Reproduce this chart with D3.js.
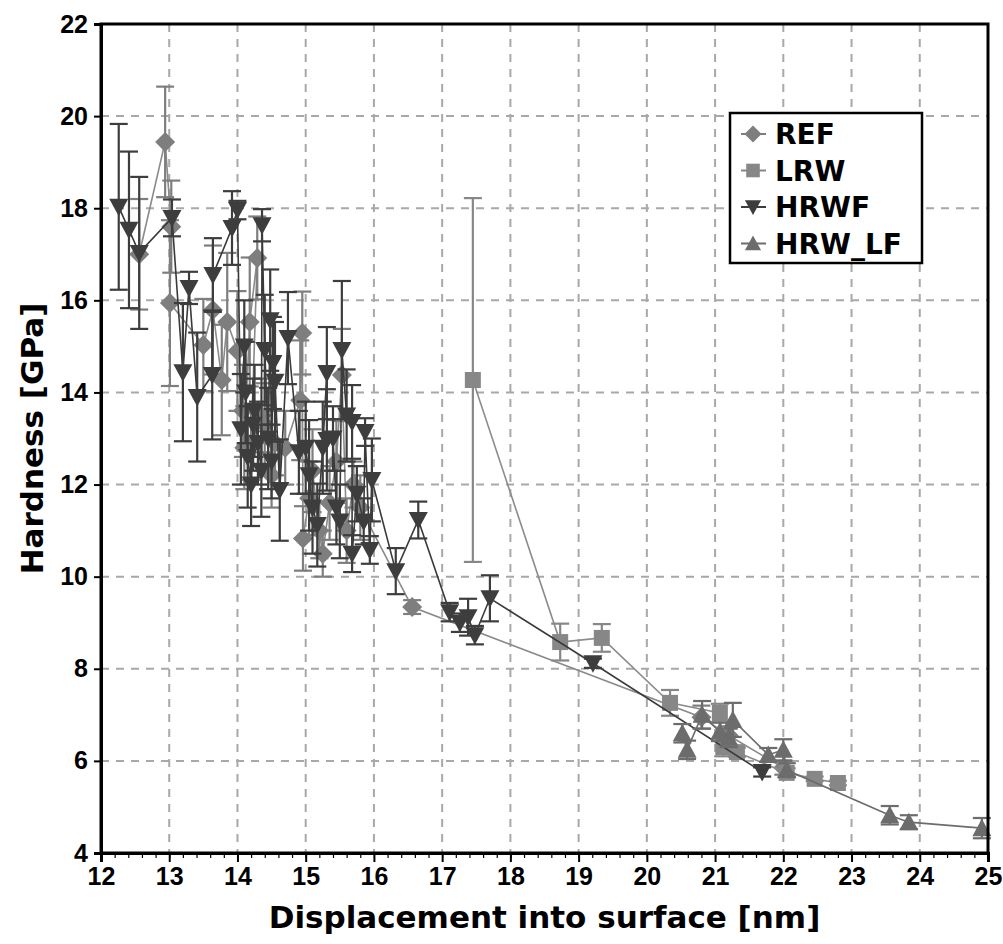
<!DOCTYPE html>
<html>
<head>
<meta charset="utf-8">
<script src="https://cdn.jsdelivr.net/npm/d3@7"></script>
<style>
  body { margin: 0; background: #fff; }
  svg { display: block; }
</style>
</head>
<body>
<div id="chart"></div>
<script>
// series data: [x (nm), hardness (GPa), error (GPa)]
const refData = [
  [12.56, 17.0, 1.2], [12.94, 19.44, 1.2], [13.03, 17.6, 1.0], [13.01, 15.94, 1.8],
  [13.5, 15.03, 1.0], [13.64, 15.79, 1.4], [13.77, 14.27, 1.2], [13.85, 15.53, 1.5],
  [14.0, 14.9, 1.3], [14.08, 13.6, 1.0], [14.1, 12.8, 0.9], [14.18, 15.53, 1.4],
  [14.29, 16.92, 0.9], [14.2, 12.9, 0.8], [14.35, 13.5, 0.8], [14.4, 13.3, 0.9],
  [14.5, 12.2, 0.7], [14.55, 12.9, 0.7], [14.7, 12.8, 0.8], [14.92, 13.83, 1.3],
  [14.95, 15.29, 0.9], [14.96, 10.83, 0.7], [15.05, 11.7, 0.8], [15.1, 12.3, 0.9],
  [15.2, 11.0, 0.6], [15.25, 10.5, 0.5], [15.35, 11.6, 0.8], [15.45, 12.5, 0.9],
  [15.53, 14.38, 1.0], [15.6, 11.0, 0.7], [15.7, 12.0, 0.5], [15.8, 11.5, 0.7],
  [16.56, 9.34, 0.15], [20.8, 6.95, 0.25], [21.2, 6.55, 0.2], [22.0, 5.85, 0.15]
];
const lrwData = [
  [17.45, 14.27, 3.95], [18.73, 8.58, 0.4], [19.34, 8.67, 0.3], [20.34, 7.26, 0.28],
  [21.07, 7.04, 0.2], [21.12, 6.3, 0.2], [21.32, 6.19, 0.1], [22.05, 5.74, 0.1],
  [22.46, 5.61, 0.05], [22.8, 5.52, 0.05]
];
const hrwfData = [
  [12.26, 18.03, 1.8], [12.41, 17.53, 1.7], [12.56, 17.03, 1.65], [13.04, 17.79, 0.4],
  [13.2, 14.44, 1.5], [13.29, 16.27, 0.35], [13.41, 13.9, 1.4], [13.63, 14.38, 1.4],
  [13.64, 16.55, 0.8], [13.92, 17.57, 0.8], [14.0, 17.96, 0.2], [14.05, 13.2, 1.2],
  [14.1, 15.0, 1.0], [14.12, 14.0, 1.1], [14.15, 12.6, 1.1], [14.2, 12.0, 0.9],
  [14.23, 13.3, 1.0], [14.25, 13.6, 1.0], [14.3, 12.9, 0.9], [14.35, 12.3, 1.0],
  [14.36, 17.63, 0.35], [14.4, 14.92, 1.2], [14.45, 13.0, 1.1], [14.48, 15.57, 1.1],
  [14.5, 12.5, 0.8], [14.52, 14.64, 1.0], [14.55, 14.23, 1.3], [14.62, 11.88, 1.1],
  [14.74, 15.18, 1.0], [14.9, 12.7, 0.9], [15.0, 12.8, 1.0], [15.05, 12.2, 1.2],
  [15.1, 11.5, 1.0], [15.17, 11.12, 0.9], [15.25, 12.8, 1.0], [15.31, 14.42, 1.0],
  [15.31, 12.97, 1.1], [15.4, 13.0, 0.7], [15.45, 11.5, 0.8], [15.5, 11.2, 0.8],
  [15.53, 14.92, 1.5], [15.6, 13.5, 1.0], [15.68, 13.36, 0.8], [15.68, 10.5, 0.4],
  [15.75, 11.8, 0.6], [15.85, 11.2, 0.5], [15.87, 13.14, 0.3], [15.94, 10.58, 0.3],
  [15.97, 12.1, 0.9], [16.32, 10.12, 0.5], [16.65, 11.23, 0.4], [17.11, 9.23, 0.2],
  [17.26, 9.0, 0.2], [17.38, 9.12, 0.4], [17.48, 8.73, 0.2], [17.7, 9.53, 0.5],
  [19.21, 8.12, 0.1], [21.69, 5.76, 0.1]
];
const hrwlfData = [
  [20.52, 6.6, 0.2], [20.59, 6.24, 0.2], [20.81, 7.0, 0.3], [21.07, 6.63, 0.2],
  [21.2, 6.5, 0.2], [21.26, 6.89, 0.37], [21.78, 6.13, 0.15], [22.0, 6.24, 0.23],
  [22.05, 5.8, 0.15], [23.56, 4.82, 0.2], [23.84, 4.67, 0.15], [24.91, 4.54, 0.22]
];
const seriesNames = ["REF", "LRW", "HRWF", "HRW_LF"];
const xTicks = d3.range(12, 26, 1);
const yTicks = d3.range(4, 23, 2);

// layout
const margin = { top: 24, right: 15, bottom: 91, left: 101 },
    width = 1003 - margin.left - margin.right,
    height = 944 - margin.top - margin.bottom;

const svg = d3.select("#chart")
    .append("svg")
    .attr("width", 1003)
    .attr("height", 944);

const g = svg.append("g")
    .attr("transform", `translate(${margin.left}, ${margin.top})`);

const x = d3.scaleLinear().domain([12, 25]).range([0, 887]);
const y = d3.scaleLinear().domain([4, 22]).range([829, 0]);
const plotW = 887, plotH = 829;

// marker shapes
const shapes = {
  diamond: "M0,-10L10,0L0,10L-10,0Z",
  square: "M-8,-8L8,-8L8,8L-8,8Z",
  down: "M-9.5,-8L9.5,-8L0,9.5Z",
  up: "M-9.5,8L9.5,8L0,-9.5Z"
};
const series = [
  { name: seriesNames[0], data: refData, color: "#7e7e7e", line: "#8a8a8a", shape: shapes.diamond },
  { name: seriesNames[1], data: lrwData, color: "#878787", line: "#8c8c8c", shape: shapes.square },
  { name: seriesNames[2], data: hrwfData, color: "#3d3d3d", line: "#3a3a3a", shape: shapes.down },
  { name: seriesNames[3], data: hrwlfData, color: "#6c6c6c", line: "#6c6c6c", shape: shapes.up }
];

// grid
g.append("g").selectAll("line")
    .data(xTicks.slice(1, -1))
    .join("line")
    .attr("x1", d => x(d)).attr("x2", d => x(d))
    .attr("y1", 0).attr("y2", plotH)
    .attr("stroke", "#a8a8a8").attr("stroke-width", 2)
    .attr("stroke-dasharray", "8,7");
g.append("g").selectAll("line")
    .data(yTicks.slice(1, -1))
    .join("line")
    .attr("y1", d => y(d)).attr("y2", d => y(d))
    .attr("x1", 0).attr("x2", plotW)
    .attr("stroke", "#a8a8a8").attr("stroke-width", 2)
    .attr("stroke-dasharray", "8,7");

// series
const line = d3.line().x(d => x(d[0])).y(d => y(d[1]));
series.forEach(s => {
  const sg = g.append("g");
  sg.append("path")
      .attr("d", line(s.data))
      .attr("fill", "none")
      .attr("stroke", s.line)
      .attr("stroke-width", 1.6);
  const eb = sg.append("g")
      .attr("stroke", s.color)
      .attr("stroke-width", 2.2);
  eb.selectAll(".v").data(s.data).join("line")
      .attr("x1", d => x(d[0])).attr("x2", d => x(d[0]))
      .attr("y1", d => y(d[1] - d[2])).attr("y2", d => y(d[1] + d[2]));
  eb.selectAll(".t").data(s.data).join("line")
      .attr("x1", d => x(d[0]) - 9).attr("x2", d => x(d[0]) + 9)
      .attr("y1", d => y(d[1] + d[2])).attr("y2", d => y(d[1] + d[2]));
  eb.selectAll(".b").data(s.data).join("line")
      .attr("x1", d => x(d[0]) - 9).attr("x2", d => x(d[0]) + 9)
      .attr("y1", d => y(d[1] - d[2])).attr("y2", d => y(d[1] - d[2]));
  sg.selectAll(".m").data(s.data).join("path")
      .attr("d", s.shape)
      .attr("transform", d => `translate(${x(d[0])},${y(d[1])})`)
      .attr("fill", s.color);
});

// frame
g.append("rect")
    .attr("width", plotW).attr("height", plotH)
    .attr("fill", "none").attr("stroke", "#000").attr("stroke-width", 3);

// axes
const xAxis = g.append("g")
    .attr("transform", `translate(0, ${plotH})`)
    .call(d3.axisBottom(x).tickValues(xTicks).tickSize(9).tickPadding(5).tickFormat(d3.format("d")));
g.append("g")
    .attr("transform", `translate(0, ${plotH})`)
    .call(d3.axisBottom(x).tickValues(d3.range(0, 66).map(i => 12 + i * 0.2)).tickSize(5).tickFormat(""))
    .call(a => a.select(".domain").remove())
    .selectAll("line").attr("stroke-width", 1.2);
const yAxis = g.append("g")
    .call(d3.axisLeft(y).tickValues(yTicks).tickSize(7).tickPadding(6).tickFormat(d3.format("d")));

[xAxis, yAxis].forEach(a => {
  a.select(".domain").attr("stroke-width", 3);
  a.selectAll(".tick line").attr("stroke-width", 2);
  a.selectAll("text")
      .attr("font-family", "'Liberation Sans', Arial, sans-serif")
      .attr("font-weight", "bold")
      .attr("font-size", "25px")
      .attr("fill", "#000");
});

// axis titles
svg.append("text")
    .attr("x", margin.left + plotW / 2)
    .attr("y", 928)
    .attr("text-anchor", "middle")
    .attr("font-family", "'DejaVu Sans', sans-serif")
    .attr("font-weight", "bold")
    .attr("font-size", "31px")
    .text("Displacement into surface [nm]");
svg.append("text")
    .attr("transform", `translate(43, ${margin.top + plotH / 2}) rotate(-90)`)
    .attr("text-anchor", "middle")
    .attr("font-family", "'DejaVu Sans', sans-serif")
    .attr("font-weight", "bold")
    .attr("font-size", "31px")
    .text("Hardness [GPa]");

// legend
const legend = svg.append("g").attr("transform", "translate(730, 113)");
legend.append("rect")
    .attr("width", 192).attr("height", 150)
    .attr("fill", "#fff").attr("stroke", "#000").attr("stroke-width", 2.5);
series.forEach((s, i) => {
  const row = legend.append("g").attr("transform", `translate(0, ${21 + i * 36.5})`);
  row.append("line")
      .attr("x1", 11).attr("x2", 36)
      .attr("stroke", s.color).attr("stroke-width", 2);
  row.append("path")
      .attr("d", s.shape)
      .attr("transform", "translate(23, 0) scale(0.85)")
      .attr("fill", s.color);
  row.append("text")
      .attr("x", 45).attr("y", 10)
      .attr("font-family", "'DejaVu Sans', sans-serif")
      .attr("font-weight", "bold")
      .attr("font-size", "28px")
      .text(s.name);
});
</script>
</body>
</html>
